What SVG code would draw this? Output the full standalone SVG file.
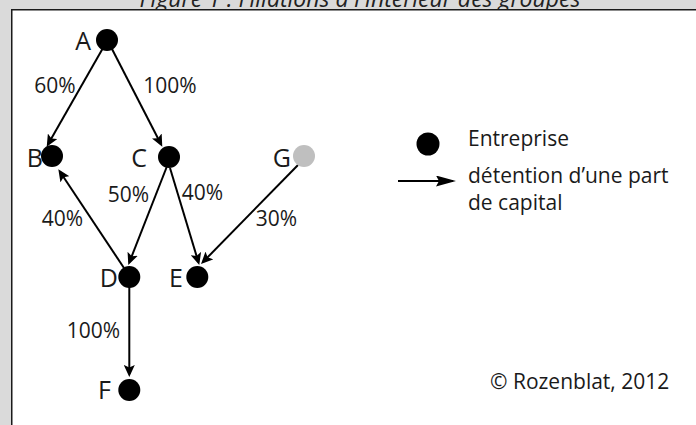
<svg xmlns="http://www.w3.org/2000/svg" width="696" height="425" viewBox="0 0 696 425">
  <style>
    .lbl { font-family: "Open Sans", "Liberation Sans", sans-serif; font-size: 25px; fill: #1a1a1a; text-anchor: end; }
    .pct { font-family: "Open Sans", "Liberation Sans", sans-serif; font-size: 21px; fill: #1a1a1a; text-anchor: middle; }
    .leg { font-family: "Open Sans", "Liberation Sans", sans-serif; font-size: 21px; fill: #1a1a1a; }
    .title { font-family: "Open Sans", "Liberation Sans", sans-serif; font-size: 23px; font-style: italic; fill: #222; text-anchor: middle; }
    .node { fill: #000; }
    .edge { stroke: #000; stroke-width: 2; fill: none; marker-end: url(#arr); }
  </style>
  <defs>
    <marker id="arr" viewBox="0 0 12 11" markerUnits="userSpaceOnUse" markerWidth="12" markerHeight="11" refX="9" refY="5.5" orient="auto">
      <path d="M0,0 L12,5.5 L0,11 L2.5,5.5 z" fill="#000"/>
    </marker>
    <marker id="arrleg" viewBox="0 0 20 11" markerUnits="userSpaceOnUse" markerWidth="20" markerHeight="11" refX="17" refY="5.5" orient="auto">
      <path d="M0,0 L20,5.5 L0,11 L3,5.5 z" fill="#000"/>
    </marker>
  </defs>

  <rect x="0" y="0" width="696" height="425" fill="#dadada"/>
  <text class="title" x="360" y="7">Figure 1 : Filiations à l'intérieur des groupes</text>
  <rect x="11.75" y="9.75" width="700" height="430" fill="#fff" stroke="#1a1a1a" stroke-width="1.5"/>

  <g id="connectors">
    <line class="edge" x1="103" y1="48" x2="48.2" y2="144.1"/>
    <line class="edge" x1="112" y1="49" x2="160.9" y2="144.0"/>
    <line class="edge" x1="166.7" y1="167" x2="129.4" y2="262.2"/>
    <line class="edge" x1="170" y1="168" x2="198.4" y2="262.1"/>
    <line class="edge" x1="298" y1="165" x2="203.1" y2="261.9"/>
    <line class="edge" x1="124" y1="268" x2="60" y2="171.8"/>
    <line class="edge" x1="129.3" y1="286" x2="129.3" y2="374"/>
    <text class="pct" x="55" y="93">60%</text>
    <text class="pct" x="170" y="93">100%</text>
    <text class="pct" x="128.5" y="202">50%</text>
    <text class="pct" x="202.5" y="200">40%</text>
    <text class="pct" x="62.5" y="226">40%</text>
    <text class="pct" x="276.5" y="226">30%</text>
    <text class="pct" x="93.5" y="338">100%</text>
  </g>

  <g id="node-A"><circle class="node" cx="107" cy="40" r="11"/><text class="lbl" x="91" y="50">A</text></g>
  <g id="node-B"><circle class="node" cx="52" cy="156" r="11"/><text class="lbl" x="43" y="167">B</text></g>
  <g id="node-C"><circle class="node" cx="169" cy="157" r="11"/><text class="lbl" x="147" y="167">C</text></g>
  <g id="node-G"><circle cx="304" cy="156" r="11" fill="#bfbfbf"/><text class="lbl" x="291" y="167">G</text></g>
  <g id="node-D"><circle class="node" cx="129.3" cy="277" r="11"/><text class="lbl" x="118" y="287">D</text></g>
  <g id="node-E"><circle class="node" cx="197.3" cy="277" r="11"/><text class="lbl" x="183" y="287">E</text></g>
  <g id="node-F"><circle class="node" cx="129.3" cy="390" r="11"/><text class="lbl" x="111" y="399">F</text></g>

  <g id="legend">
    <circle class="node" cx="428" cy="144" r="11.5"/>
    <text class="leg" x="468" y="145.5">Entreprise</text>
    <line x1="398" y1="181" x2="453" y2="181" stroke="#000" stroke-width="2" marker-end="url(#arrleg)"/>
    <text class="leg" x="468" y="182.5">détention d’une part</text>
    <text class="leg" x="468" y="210">de capital</text>
  </g>
  <text class="leg" x="490" y="389">© Rozenblat, 2012</text>
</svg>
